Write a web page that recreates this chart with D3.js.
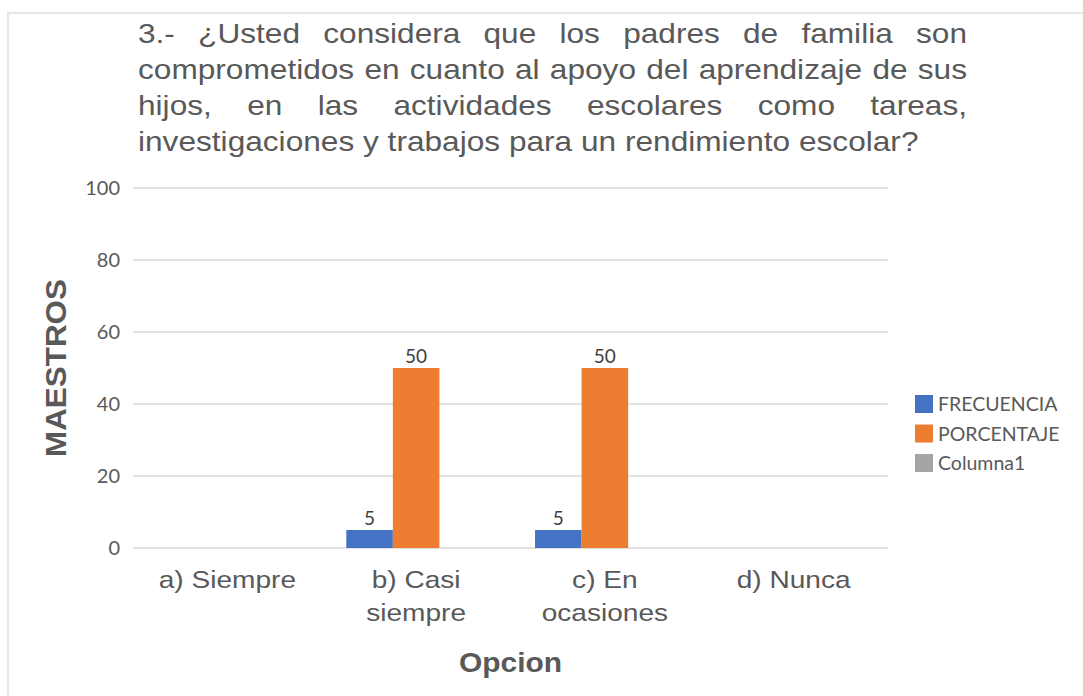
<!DOCTYPE html>
<html>
<head>
    <meta charset="utf-8">
    <style>
        body {
            margin: 0;
            background: #fff;
        }

        svg {
            display: block;
        }

        .grid line {
            stroke: #d9d9d9;
            stroke-width: 1.3;
        }

        .y-tick {
            font-family: Lato, "Open Sans", sans-serif;
            font-size: 20px;
            fill: #595959;
        }

        .x-label {
            font-family: "Liberation Sans", Arial, sans-serif;
            font-size: 24px;
            fill: #595959;
        }

        .title {
            font-family: "Liberation Sans", Arial, sans-serif;
            font-size: 28px;
            fill: #595959;
        }

        .axis-title {
            font-family: "Liberation Sans", Arial, sans-serif;
            font-weight: bold;
            fill: #595959;
        }

        .bar-label {
            font-family: Lato, "Open Sans", sans-serif;
            font-size: 19px;
            fill: #404040;
        }

        .legend text {
            font-family: Lato, "Open Sans", sans-serif;
            font-size: 19.5px;
            fill: #595959;
        }
    </style>
</head>

<body>
    <svg width="1083" height="696"></svg>
</body>

<script src="https://d3js.org/d3.v7.min.js"></script>

<script>
    // data
    let titleLines = [
        "3.- ¿Usted considera que los padres de familia son",
        "comprometidos en cuanto al apoyo del aprendizaje de sus",
        "hijos, en las actividades escolares como tareas,",
        "investigaciones y trabajos para un rendimiento escolar?"
    ]

    let categories = [
        ["a) Siempre"],
        ["b) Casi", "siempre"],
        ["c) En", "ocasiones"],
        ["d) Nunca"]
    ]

    let seriesNames = ["FRECUENCIA", "PORCENTAJE", "Columna1"]
    let seriesColors = ["#4472C4", "#ED7D31", "#A5A5A5"]

    let frecuencia = [null, 5, 5, null]
    let porcentaje = [null, 50, 50, null]
    let columna1 = [null, null, null, null]

    let yTicks = [0, 20, 40, 60, 80, 100]

    let svg = d3.select("svg")

    let margin = { top: 188, right: 195, bottom: 148, left: 133 }
    let width = 1083
    let height = 696

    // light frame round the picture
    svg.append("rect")
        .attr("x", 8)
        .attr("y", 13)
        .attr("width", 1200)
        .attr("height", 800)
        .attr("fill", "none")
        .attr("stroke", "#e6e6e6")
        .attr("stroke-width", 2)

    // ---- title, justified like in the source document
    let sx = 1.13
    let titleWidth = 829
    let title = svg.append("g")
        .attr("class", "title")
        .attr("transform", `translate(138,0) scale(${sx},1)`)

    titleLines.forEach(function (line, i) {
        let baseline = 43 + i * 36
        let last = i == titleLines.length - 1
        if (last) {
            title.append("text")
                .attr("x", 0)
                .attr("y", baseline)
                .text(line)
            return
        }
        let words = line.split(" ")
        let texts = words.map(w => title.append("text").attr("y", baseline).text(w))
        let widths = texts.map(t => t.node().getComputedTextLength())
        let gap = (titleWidth / sx - d3.sum(widths)) / (words.length - 1)
        let xpos = 0
        texts.forEach(function (t, j) {
            t.attr("x", xpos)
            xpos += widths[j] + gap
        })
    })

    // ---- scales
    let x = d3.scaleBand()
        .domain(d3.range(categories.length))
        .range([margin.left, width - margin.right])
        .paddingInner(0.26)
        .paddingOuter(0.13)

    let x1 = d3.scaleBand()
        .domain(seriesNames)
        .range([0, x.bandwidth()])

    let y = d3.scaleLinear()
        .domain([0, 100])
        .range([height - margin.bottom, margin.top])

    // ---- gridlines and y tick labels
    let grid = svg.append("g").attr("class", "grid")
    grid.selectAll("line")
        .data(yTicks)
        .join("line")
        .attr("x1", margin.left)
        .attr("x2", width - margin.right)
        .attr("y1", d => y(d))
        .attr("y2", d => y(d))

    svg.append("g")
        .selectAll("text")
        .data(yTicks)
        .join("text")
        .attr("class", "y-tick")
        .attr("x", margin.left - 13)
        .attr("y", d => y(d))
        .attr("dy", "0.36em")
        .attr("text-anchor", "end")
        .text(d => d)

    // ---- bars
    let table = categories.map((c, i) => ({
        i: i,
        values: [frecuencia[i], porcentaje[i], columna1[i]]
    }))

    let groups = svg.append("g")
        .selectAll("g")
        .data(table)
        .join("g")
        .attr("transform", d => `translate(${x(d.i)},0)`)

    let cells = groups.selectAll("g")
        .data(d => d.values.map((v, k) => ({ key: seriesNames[k], color: seriesColors[k], value: v })))
        .join("g")
        .filter(d => d.value != null)

    cells.append("rect")
        .attr("x", d => x1(d.key))
        .attr("width", x1.bandwidth())
        .attr("y", d => y(d.value))
        .attr("height", d => y(0) - y(d.value))
        .attr("fill", d => d.color)

    cells.append("text")
        .attr("class", "bar-label")
        .attr("x", d => x1(d.key) + x1.bandwidth() / 2)
        .attr("y", d => y(d.value) - 5)
        .attr("text-anchor", "middle")
        .text(d => d.value)

    // ---- category labels
    let xl = svg.append("g")
        .selectAll("g")
        .data(categories)
        .join("g")
        .attr("transform", (d, i) => `translate(${x(i) + x.bandwidth() / 2},588) scale(1.17,1)`)

    xl.selectAll("text")
        .data(d => d)
        .join("text")
        .attr("class", "x-label")
        .attr("y", (d, j) => j * 33)
        .attr("text-anchor", "middle")
        .text(d => d)

    // ---- axis titles
    svg.append("text")
        .attr("class", "axis-title")
        .attr("transform", `translate(${(margin.left + width - margin.right) / 2},672) scale(1.07,1)`)
        .attr("text-anchor", "middle")
        .style("font-size", "28px")
        .text("Opcion")

    svg.append("text")
        .attr("class", "axis-title")
        .attr("transform", `translate(66,${(y(0) + y(100)) / 2}) rotate(-90)`)
        .attr("text-anchor", "middle")
        .style("font-size", "30px")
        .attr("textLength", 178)
        .attr("lengthAdjust", "spacingAndGlyphs")
        .text("MAESTROS")

    // ---- legend
    let legend = svg.append("g")
        .attr("class", "legend")
        .attr("transform", "translate(915,395)")

    let items = legend.selectAll("g")
        .data(seriesNames)
        .join("g")
        .attr("transform", (d, i) => `translate(0,${i * 29.5})`)

    items.append("rect")
        .attr("width", 18)
        .attr("height", 18)
        .attr("fill", (d, i) => seriesColors[i])

    items.append("text")
        .attr("x", 23)
        .attr("y", 16)
        .text(d => d)
</script>
</html>
